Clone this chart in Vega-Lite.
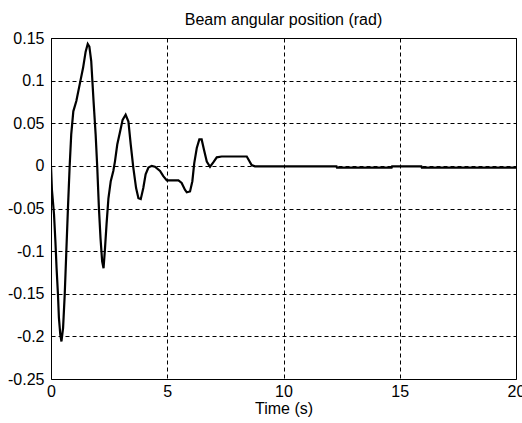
{
  "$schema": "https://vega.github.io/schema/vega-lite/v6.json",
  "autosize": "none",
  "width": 465,
  "height": 341,
  "padding": {"left": 51, "top": 38, "right": 6, "bottom": 44},
  "background": "white",
  "config": {
    "font": "Liberation Sans",
    "view": {"stroke": "black", "strokeWidth": 1},
    "axis": {
      "labelFont": "Liberation Sans",
      "titleFont": "Liberation Sans",
      "labelFontSize": 16,
      "titleFontSize": 16,
      "labelColor": "black",
      "titleColor": "black",
      "titleFontWeight": "normal",
      "domain": false,
      "tickSize": 0,
      "grid": true,
      "gridColor": "black",
      "gridOpacity": 1,
      "gridWidth": 1,
      "gridDash": [4, 3]
    }
  },
  "title": {
    "text": "Beam angular position (rad)",
    "font": "Liberation Sans",
    "fontSize": 16,
    "fontWeight": "normal",
    "color": "black",
    "offset": 2
  },
  "data": {
    "values": [
      {"t": 0, "v": 0},
      {"t": 0.04, "v": -0.028},
      {"t": 0.13, "v": -0.057},
      {"t": 0.19, "v": -0.089},
      {"t": 0.24, "v": -0.12},
      {"t": 0.30, "v": -0.151},
      {"t": 0.34, "v": -0.178},
      {"t": 0.40, "v": -0.198},
      {"t": 0.45, "v": -0.206},
      {"t": 0.52, "v": -0.19},
      {"t": 0.59, "v": -0.151},
      {"t": 0.66, "v": -0.1},
      {"t": 0.73, "v": -0.049},
      {"t": 0.80, "v": -0.002},
      {"t": 0.87, "v": 0.037},
      {"t": 0.96, "v": 0.064},
      {"t": 1.09, "v": 0.076},
      {"t": 1.23, "v": 0.095},
      {"t": 1.38, "v": 0.115},
      {"t": 1.49, "v": 0.134},
      {"t": 1.58, "v": 0.143},
      {"t": 1.65, "v": 0.14},
      {"t": 1.73, "v": 0.123},
      {"t": 1.83, "v": 0.076},
      {"t": 1.92, "v": 0.037},
      {"t": 1.99, "v": -0.002},
      {"t": 2.06, "v": -0.049},
      {"t": 2.13, "v": -0.085},
      {"t": 2.2, "v": -0.112},
      {"t": 2.26, "v": -0.12},
      {"t": 2.32, "v": -0.098},
      {"t": 2.39, "v": -0.068},
      {"t": 2.47, "v": -0.038},
      {"t": 2.57, "v": -0.018},
      {"t": 2.68, "v": -0.006},
      {"t": 2.75, "v": 0.005},
      {"t": 2.85, "v": 0.025},
      {"t": 2.97, "v": 0.04},
      {"t": 3.08, "v": 0.054},
      {"t": 3.21, "v": 0.06},
      {"t": 3.33, "v": 0.052},
      {"t": 3.43, "v": 0.025},
      {"t": 3.54, "v": -0.002},
      {"t": 3.66, "v": -0.026},
      {"t": 3.76, "v": -0.038},
      {"t": 3.86, "v": -0.039},
      {"t": 3.97, "v": -0.026},
      {"t": 4.07, "v": -0.01},
      {"t": 4.19, "v": -0.002},
      {"t": 4.33, "v": 0.0},
      {"t": 4.47, "v": -0.001},
      {"t": 4.69, "v": -0.006},
      {"t": 4.83, "v": -0.012},
      {"t": 4.98, "v": -0.017},
      {"t": 5.48, "v": -0.017},
      {"t": 5.62, "v": -0.02},
      {"t": 5.76, "v": -0.028},
      {"t": 5.84, "v": -0.031},
      {"t": 5.98, "v": -0.03},
      {"t": 6.08, "v": -0.018},
      {"t": 6.16, "v": 0.003},
      {"t": 6.27, "v": 0.021},
      {"t": 6.38, "v": 0.031},
      {"t": 6.48, "v": 0.031},
      {"t": 6.58, "v": 0.019},
      {"t": 6.7, "v": 0.005},
      {"t": 6.84, "v": -0.001},
      {"t": 6.98, "v": 0.004},
      {"t": 7.13, "v": 0.01},
      {"t": 7.34, "v": 0.011},
      {"t": 8.42, "v": 0.011},
      {"t": 8.63, "v": 0.001},
      {"t": 8.77, "v": -0.0005},
      {"t": 12.28, "v": -0.0007},
      {"t": 12.3, "v": -0.002},
      {"t": 14.65, "v": -0.002},
      {"t": 14.67, "v": -0.0007},
      {"t": 15.93, "v": -0.0007},
      {"t": 15.95, "v": -0.002},
      {"t": 20, "v": -0.002}
    ]
  },
  "mark": {"type": "line", "color": "black", "strokeWidth": 2.2, "clip": true},
  "encoding": {
    "x": {
      "field": "t",
      "type": "quantitative",
      "scale": {"domain": [0, 20], "nice": false, "zero": false},
      "axis": {"values": [0, 5, 10, 15, 20], "title": "Time (s)", "labelPadding": 4, "titlePadding": 1, "labelFlush": false}
    },
    "y": {
      "field": "v",
      "type": "quantitative",
      "scale": {"domain": [-0.25, 0.15], "nice": false, "zero": false},
      "axis": {
        "values": [-0.25, -0.2, -0.15, -0.1, -0.05, 0, 0.05, 0.1, 0.15],
        "labelExpr": "'' + datum.value",
        "title": null,
        "labelPadding": 7,
        "labelFlush": false
      }
    }
  }
}
